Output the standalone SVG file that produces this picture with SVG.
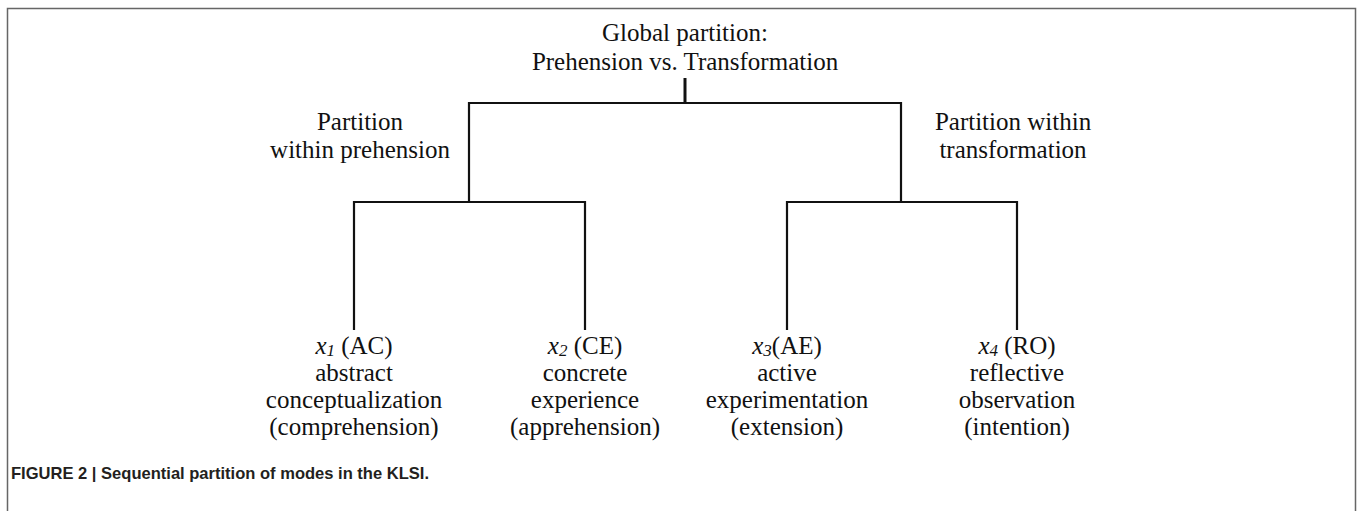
<svg xmlns="http://www.w3.org/2000/svg" width="1357" height="511" viewBox="0 0 1357 511">
<style>
.t{font-family:"Liberation Serif","Times New Roman",serif;font-size:25px;fill:#111;text-anchor:middle}
.i{font-style:italic}
.sub{font-style:italic;font-size:17px}
.ln{stroke:#111;stroke-width:2.2;fill:none}
.cap{font-family:"Liberation Sans",Arial,sans-serif;font-weight:bold;font-size:17px;fill:#231f20}
</style>
<rect width="1357" height="511" fill="#fff"/>
<path d="M7.5,511 V8.5 H1355.5 V511" fill="none" stroke="#666" stroke-width="1.5"/>
<g id="connectors">
<line class="ln" x1="685" y1="78" x2="685" y2="103" style="stroke-width:3"/>
<path class="ln" d="M469,202 V103 H901 V202"/>
<path class="ln" d="M354,330 V202 H585 V330"/>
<path class="ln" d="M787,330 V202 H1017 V330"/>
</g>
<g id="root">
<text class="t" x="685" y="41">Global partition:</text>
<text class="t" x="685" y="70">Prehension vs. Transformation</text>
</g>
<g id="prehension">
<text class="t" x="360" y="130">Partition</text>
<text class="t" x="360" y="158">within prehension</text>
</g>
<g id="transformation">
<text class="t" x="1013" y="130">Partition within</text>
<text class="t" x="1013" y="158">transformation</text>
</g>
<g id="x1">
<text class="t" x="354" y="354"><tspan class="i">x</tspan><tspan class="sub" dy="2">1</tspan><tspan dy="-2"> (AC)</tspan></text>
<text class="t" x="354" y="381">abstract</text>
<text class="t" x="354" y="408">conceptualization</text>
<text class="t" x="354" y="435">(comprehension)</text>
</g>
<g id="x2">
<text class="t" x="585" y="354"><tspan class="i">x</tspan><tspan class="sub" dy="2">2</tspan><tspan dy="-2"> (CE)</tspan></text>
<text class="t" x="585" y="381">concrete</text>
<text class="t" x="585" y="408">experience</text>
<text class="t" x="585" y="435">(apprehension)</text>
</g>
<g id="x3">
<text class="t" x="787" y="354"><tspan class="i">x</tspan><tspan class="sub" dy="2">3</tspan><tspan dy="-2">(AE)</tspan></text>
<text class="t" x="787" y="381">active</text>
<text class="t" x="787" y="408">experimentation</text>
<text class="t" x="787" y="435">(extension)</text>
</g>
<g id="x4">
<text class="t" x="1017" y="354"><tspan class="i">x</tspan><tspan class="sub" dy="2">4</tspan><tspan dy="-2"> (RO)</tspan></text>
<text class="t" x="1017" y="381">reflective</text>
<text class="t" x="1017" y="408">observation</text>
<text class="t" x="1017" y="435">(intention)</text>
</g>
<g id="caption">
<text class="cap" x="11" y="479" textLength="418" lengthAdjust="spacingAndGlyphs">FIGURE 2 | Sequential partition of modes in the KLSI.</text>
</g>
</svg>
